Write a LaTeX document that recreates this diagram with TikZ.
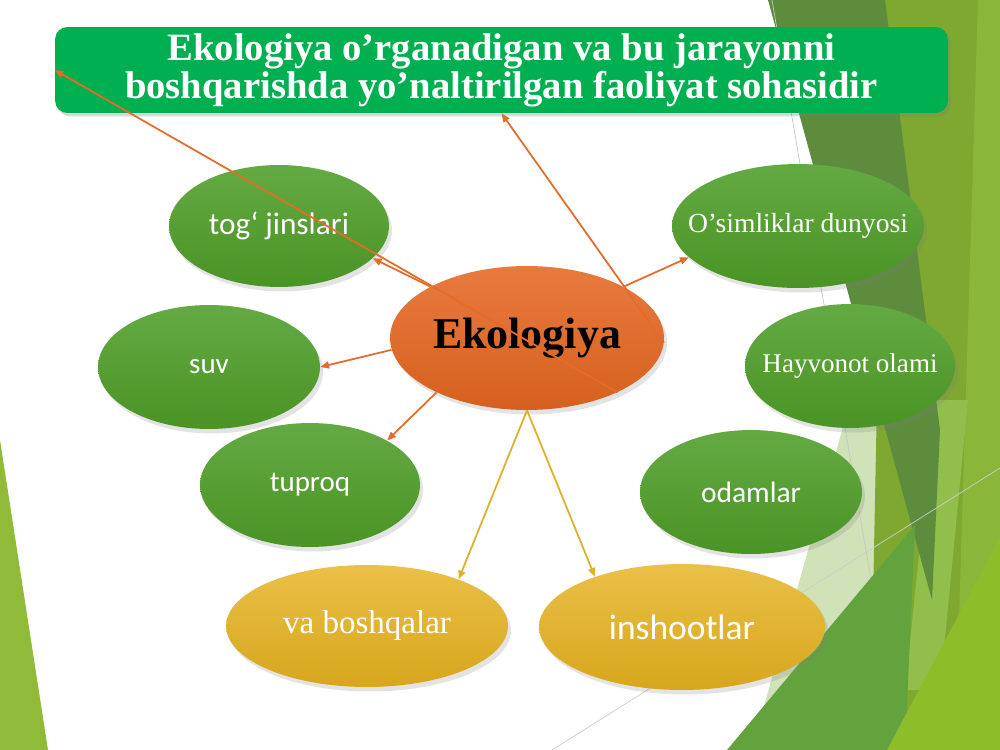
\documentclass[tikz,border=0pt]{standalone}
\usepackage{fontspec}
\setmainfont{Liberation Serif}
\newfontfamily\carlito{Carlito}
\usetikzlibrary{shapes.geometric,shadows,arrows.meta}
\definecolor{titlegreen}{RGB}{0,176,80}
\definecolor{leaftop}{RGB}{100,170,68}
\definecolor{leafbot}{RGB}{74,147,36}
\definecolor{suntop}{RGB}{234,192,72}
\definecolor{sunbot}{RGB}{215,166,28}
\definecolor{ekotop}{RGB}{232,122,62}
\definecolor{ekobot}{RGB}{214,96,30}
\definecolor{linkorange}{RGB}{228,108,40}
\definecolor{linkgold}{RGB}{222,176,40}
\definecolor{leftstrip}{RGB}{143,187,57}
\definecolor{darkband}{RGB}{92,140,60}
\definecolor{oliveband}{RGB}{126,168,48}
\definecolor{olivelight}{RGB}{138,182,58}
\definecolor{lightstripe}{RGB}{146,190,76}
\definecolor{paleband}{RGB}{208,226,184}
\definecolor{midgreen}{RGB}{98,163,62}
\definecolor{brightgreen}{RGB}{141,190,42}
\tikzset{
	oval/.style 2 args={ellipse,minimum width=#1*0.04cm,minimum height=#2*0.04cm,inner sep=0pt,inner xsep=-12pt,
		drop shadow={opacity=0.22,shadow xshift=0.6mm,shadow yshift=-0.9mm}},
	leaf/.style={top color=leaftop,bottom color=leafbot,text=white},
	sun/.style={top color=suntop,bottom color=sunbot,text=white},
	link/.style={draw=linkorange,line width=1pt,-{Triangle[length=5pt,width=4pt]}},
	goldlink/.style={link,draw=linkgold},
}
\begin{document}
\begin{tikzpicture}[x=0.02cm,y=-0.02cm]
	\useasboundingbox (0,0) rectangle (1000,750);
	% slide background
	\fill[white] (0,0) rectangle (1000,750);
	\fill[leftstrip] (0,440) -- (48,750) -- (0,750) -- cycle;
	\fill[paleband] (845,420) -- (888,420) -- (915,525) -- (760,720) -- cycle;
	\fill[oliveband] (885,0) -- (1000,0) -- (1000,750) -- (870,750) -- cycle;
	\fill[olivelight] (978,0) -- (1000,0) -- (1000,750) -- (955,750) -- cycle;
	\fill[lightstripe] (935,400) -- (968,400) -- (940,690) -- (905,690) -- cycle;
	\fill[darkband] (768,0) -- (885,0) -- (940,430) -- (932,600) -- cycle;
	\draw[gray!45,line width=0.4pt] (772,0) -- (900,750);
	\draw[gray!40,line width=0.4pt] (552,750) -- (1000,468);
	\fill[midgreen] (727,750) -- (915,525) -- (905,750) -- cycle;
	\fill[brightgreen] (887,750) -- (1000,537) -- (1000,750) -- cycle;
	% title
	\node[fill=titlegreen,rounded corners=7pt,minimum width=17.86cm,minimum height=1.72cm,text=white,align=center,
		font=\bfseries\fontsize{22}{21.5}\selectfont,drop shadow={opacity=0.3,shadow xshift=0.5mm,shadow yshift=-0.7mm}]
		(title) at (501.5,70) {Ekologiya o’rganadigan va bu jarayonni\\boshqarishda yo’naltirilgan faoliyat sohasidir};
	% ovals
	\node[oval={137}{72},top color=ekotop,bottom color=ekobot,font=\bfseries\fontsize{25}{30}\selectfont] (eko) at (527,338) {Ekologiya};
	\node[oval={110}{61},leaf,font=\carlito\fontsize{17.8}{20}\selectfont] (tog) at (279,226) {tog‘ jinslari};
	\node[oval={111}{62},leaf,font=\carlito\fontsize{16.5}{20}\selectfont] (suv) at (209,367) {suv};
	\node[oval={110}{62},leaf,font=\carlito\fontsize{16.5}{20}\selectfont] (tup) at (310,485) {tuproq};
	\node[oval={126}{62},leaf,font=\fontsize{15.7}{18}\selectfont] (osim) at (798,226) {O’simliklar dunyosi};
	\node[oval={105}{62},leaf,font=\fontsize{15.4}{18}\selectfont] (hayv) at (850,366) {Hayvonot olami};
	\node[oval={111}{62},leaf,font=\carlito\fontsize{16.8}{20}\selectfont] (odam) at (751,492) {odamlar};
	\node[oval={141}{61},sun,font=\fontsize{18.8}{22}\selectfont] (vab) at (367,626) {va boshqalar};
	\node[oval={143}{63},sun,font=\carlito\fontsize{20.2}{24}\selectfont] (insh) at (682,627) {inshootlar};
	% links
	\draw[link] (eko.-31) -- (title.west);
	\draw[link] (eko.152) -- (tog.-19);
	\draw[link] (eko.-2) -- (title.south);
	\draw[link] (eko.28) -- (osim.196);
	\draw[link] (eko.185) -- (suv.east);
	\draw[link] (eko.211) -- (tup.30);
	\draw[goldlink] (eko.south) -- (vab.27);
	\draw[goldlink] (eko.south) -- (insh.150);
\end{tikzpicture}
\end{document}
